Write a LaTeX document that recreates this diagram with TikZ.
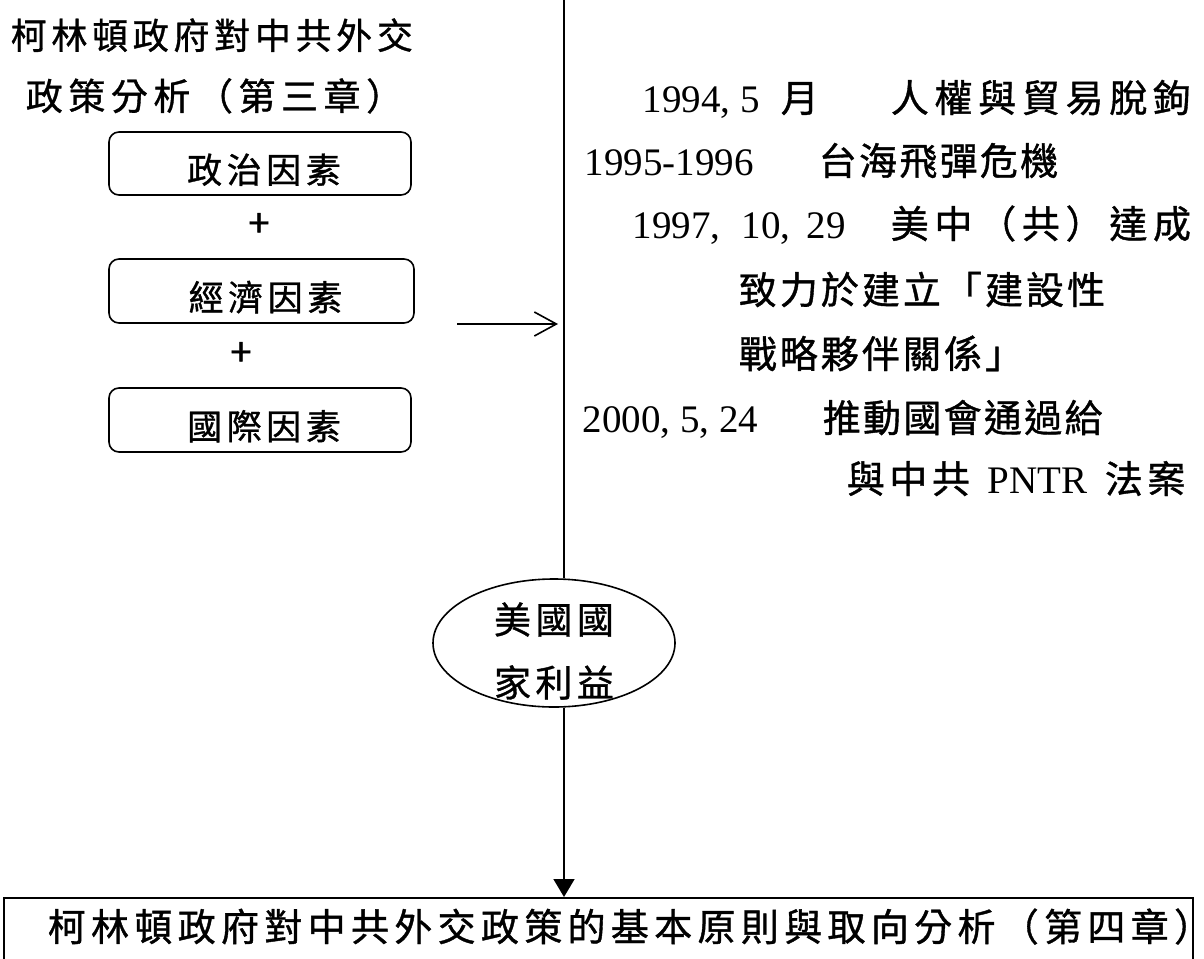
\documentclass[tikz,border=0pt]{standalone}
\usepackage{fontspec}
\setmainfont{Liberation Serif}
\newfontfamily\cjk[FakeBold=1.0]{Noto Sans CJK TC}
\usetikzlibrary{shapes.geometric,arrows.meta}
\newcommand\cjs[3]{\cjk\addfontfeature{LetterSpace=#2}\fontsize{#1pt}{#3pt}\selectfont}
\newcommand\ser{\fontsize{39pt}{44pt}\selectfont}
\begin{document}
\begin{tikzpicture}[x=1pt,y=-1pt,line width=1.6pt,
  txt/.style={inner sep=0pt,anchor=base west},
  factor/.style={draw,rounded corners=10pt,minimum width=302pt,minimum height=63pt,inner sep=0pt,
    text height=39pt,text depth=0pt,font=\cjs{35}{13}{40}},
  plus/.style={inner sep=0pt,font=\cjs{38}{0}{40}},
  rcj/.style={txt,font=\cjs{38}{#1}{44}},
  rser/.style={txt,font=\ser}]
\useasboundingbox[fill=white] (0,0) rectangle (1204,958);

% title
\node[txt,font=\cjs{36}{13}{40}] (t1) at (10,49) {柯林頓政府對中共外交};
\node[txt,font=\cjs{37}{15}{40}] (t2) at (25,110) {政策分析（第三章）};

% factor boxes
\node[factor,minimum width=302pt] (f1) at (260,163.5) {\hspace*{8pt}政治因素};
\node[plus] (p1) at (259,225) {+};
\node[factor,minimum width=305pt,minimum height=64pt] (f2) at (261.5,291) {\hspace*{8pt}經濟因素};
\node[plus] (p2) at (241,354) {+};
\node[factor,minimum width=302pt,minimum height=64pt] (f3) at (260,420) {\hspace*{8pt}國際因素};

% open arrow towards the line
\coordinate (as) at (457,324);
\coordinate (ae) at (558,324);
\draw[-{Straight Barb[length=22pt,width=24pt]}] (as) -- (ae);

% events
\node[rser] (l1a) at (642,112) {1994, 5};
\node[rcj=0] (l1b) at (780,112) {月};
\node[rcj=15] (l1c) at (890,112) {人權與貿易脫鉤};
\node[rser] (l2a) at (584,175) {1995-1996};
\node[rcj=6] (l2b) at (818,175) {台海飛彈危機};
\node[rser] (l3a) at (632,238) {1997,\hspace*{11.5pt} 10,\hspace*{6.5pt} 29};
\node[rcj=15] (l3b) at (890,238) {美中（共）達成};
\node[rcj=8] (l4) at (738,304) {致力於建立「建設性};
\node[rcj=8] (l5) at (738,368) {戰略夥伴關係」};
\node[rser] (l6a) at (582,432) {2000, 5, 24};
\node[rcj=6] (l6b) at (822,432) {推動國會通過給};
\node[rcj=12] (l7a) at (846,493) {與中共};
\node[rser] (l7b) at (987,493) {PNTR};
\node[rcj=12] (l7c) at (1104,493) {法案};

% national interest
\node[draw,ellipse,minimum width=242pt,minimum height=128pt,inner sep=0pt] (nat) at (554,643) {};
\node[inner sep=0pt,align=center,font=\cjs{37}{12}{63}] (natlbl) at (554,651) {美國國\\家利益};

% goal box
\node[draw,anchor=north west,minimum width=1189pt,minimum height=90pt,inner sep=0pt] (goal) at (3,897) {};
\node[txt,font=\cjs{38}{14}{44}] (goaltxt) at (47,941) {柯林頓政府對中共外交政策的基本原則與取向分析（第四章）\hspace*{-24pt}};

% main line
\coordinate (vtop) at (564,0);
\draw (vtop) -- (vtop |- nat.north);
\draw[-{Triangle[length=18pt,width=21pt]}] (nat.south -| vtop) -- (vtop |- goal.north);
\end{tikzpicture}
\end{document}
